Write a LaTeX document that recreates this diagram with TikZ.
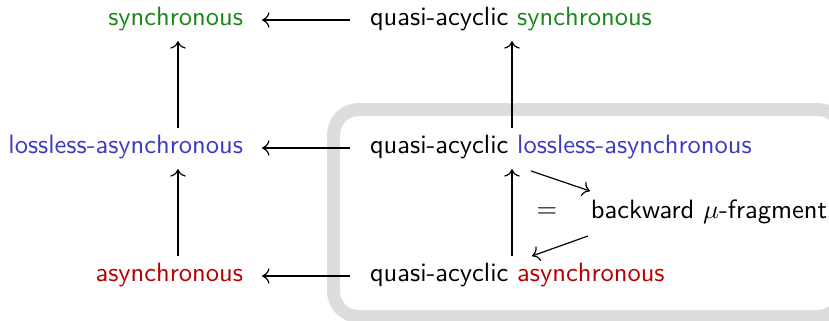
\documentclass[tikz,border=0pt]{standalone}
\usetikzlibrary{calc,cd}
\definecolor{cgreen}{RGB}{25,135,25}
\definecolor{cblue}{RGB}{60,60,190}
\definecolor{cred}{RGB}{185,0,0}
\definecolor{boxgray}{RGB}{221,221,221}
\begin{document}
\begin{tikzpicture}[x=0.3773pt,y=-0.3773pt,>={cm to},
  lbl/.style={inner sep=0pt,outer sep=0pt,font=\sffamily},
  arr/.style={->,line width=0.45pt},
  harr/.style={arr,shorten <=7.5pt,shorten >=7.2pt},
  varr/.style={arr,shorten <=2.8pt,shorten >=3.8pt}]
\useasboundingbox (0,0) rectangle (829,321);
\clip (0,0) rectangle (829,321);
\draw[boxgray,line width=4.9pt,rounded corners=9.5pt] (333.5,109.5) rectangle (843,316.5);
% left column
\node[lbl,anchor=mid east] (s) at (243,20) {\color{cgreen}synchronous};
\node[lbl,anchor=mid east] (l) at (243,148) {\color{cblue}lossless-asynchronous};
\node[lbl,anchor=mid east] (a) at (243,276) {\color{cred}asynchronous};
% right column
\node[lbl,anchor=mid west] (qs) at (370,20) {quasi-acyclic \color{cgreen}synchronous};
\node[lbl,anchor=mid west] (ql) at (370,148) {quasi-acyclic \color{cblue}lossless-asynchronous};
\node[lbl,anchor=mid west] (qa) at (370,276) {quasi-acyclic \color{cred}asynchronous};
\node[lbl,anchor=mid west] (bw) at (591,213) {backward $\mu$-fragment};
\node[lbl] (eq) at (547,213) {$=$};
% horizontal arrows
\draw[harr] (qs.mid west) -- (s.mid east);
\draw[harr] (ql.mid west) -- (l.mid east);
\draw[harr] (qa.mid west) -- (a.mid east);
% vertical arrows
\coordinate (cL) at (178,0);
\coordinate (cR) at (512,0);
\draw[varr] (cL |- l.north) -- (cL |- s.south);
\draw[varr] (cL |- a.north) -- (cL |- l.south);
\draw[varr] (cR |- ql.north) -- (cR |- qs.south);
\draw[varr] (cR |- qa.north) -- (cR |- ql.south);
% diagonal arrows
\coordinate (d1a) at (531,171);
\coordinate (d1b) at (590,191);
\coordinate (d2a) at (588,236);
\coordinate (d2b) at (532,256);
\draw[arr] (d1a) -- (d1b);
\draw[arr] (d2a) -- (d2b);
\end{tikzpicture}
\end{document}
